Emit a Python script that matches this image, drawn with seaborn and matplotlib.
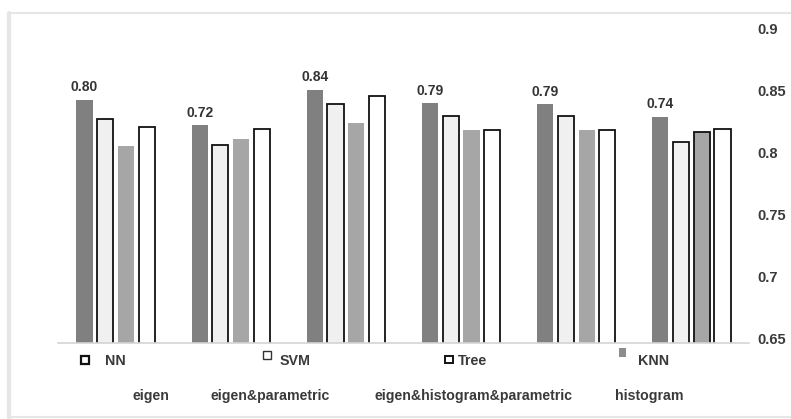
import matplotlib
matplotlib.use("Agg")
import matplotlib.pyplot as plt
import matplotlib.transforms as mtransforms
from matplotlib.patches import Rectangle
from matplotlib.lines import Line2D
import pandas as pd
import seaborn as sns

# Data
GROUPS = ["1", "2", "3", "4", "5", "6"]
MODELS = ["NN", "SVM", "Tree", "KNN"]
NN = [0.847, 0.826, 0.855, 0.844, 0.843, 0.833]
SVM = [0.831, 0.810, 0.843, 0.834, 0.834, 0.813]
TREE = [0.809, 0.815, 0.828, 0.822, 0.822, 0.821]
KNN = [0.8245, 0.823, 0.850, 0.822, 0.822, 0.823]
TOP_LABELS = ["0.80", "0.72", "0.84", "0.79", "0.79", "0.74"]
CATEGORY_LABELS = ["eigen", "eigen&parametric", "eigen&histogram&parametric", "histogram"]
Y_TICKS = [0.65, 0.7, 0.75, 0.8, 0.85, 0.9]
Y_TICK_LABELS = ["0.65", "0.7", "0.75", "0.8", "0.85", "0.9"]

COLORS = {"NN": "#808080", "SVM": "#f0f0f0", "Tree": "#a6a6a6", "KNN": "#ffffff"}
TEXT = "#3a3a3a"
W, H = 791, 419


def px(x, y):
    # pixel (from top-left) -> figure fraction
    return x / W, 1 - y / H


def build_frame():
    rows = []
    for model, vals in zip(MODELS, [NN, SVM, TREE, KNN]):
        for g, v in zip(GROUPS, vals):
            rows.append({"group": g, "model": model, "score": v})
    return pd.DataFrame(rows)


sns.set_style("white")
plt.rcParams["font.family"] = ["Liberation Sans", "DejaVu Sans"]

df = build_frame()
fig = plt.figure(figsize=(W / 100, H / 100), dpi=100)
ax = fig.add_axes([58 / W, 76 / H, (749 - 58) / W, 309 / H])

sns.barplot(data=df, x="group", y="score", hue="model", hue_order=MODELS,
            palette=COLORS, width=0.72, gap=0.22, saturation=1,
            legend=False, ax=ax)

# edges like the original
for i, cont in enumerate(ax.containers):
    for j, bar in enumerate(cont):
        bar.set_linewidth(0)
        if MODELS[i] in ("SVM", "KNN") or (MODELS[i] == "Tree" and j == 5):
            bar.set_edgecolor("#111111")
            bar.set_linewidth(1.3)

ax.bar_label(ax.containers[0], labels=TOP_LABELS, padding=4,
             fontsize=10, fontweight="bold", color="#333333")

ax.set_ylim(0.65, 0.9)
ax.yaxis.tick_right()
ax.set_yticks(Y_TICKS)
ax.set_yticklabels(Y_TICK_LABELS)
ax.tick_params(axis="y", length=0, pad=6, labelsize=10.5, labelcolor=TEXT)
for lab in ax.get_yticklabels():
    lab.set_fontweight("bold")
    lab.set_transform(lab.get_transform() + mtransforms.ScaledTranslation(0, 5 / 100, fig.dpi_scale_trans))
ax.set_xticks([])
ax.set_xlabel("")
ax.set_ylabel("")
for side in ("top", "left", "right"):
    ax.spines[side].set_visible(False)
ax.spines["bottom"].set_color("#d4d4d4")
ax.spines["bottom"].set_linewidth(1.2)

# outer frame
fig.add_artist(Line2D(*zip(px(9, 13), px(791, 13)), transform=fig.transFigure, color="#e6e6e6", lw=1.5))
fig.add_artist(Line2D(*zip(px(9, 13), px(9, 419)), transform=fig.transFigure, color="#e6e6e6", lw=3))
fig.add_artist(Line2D(*zip(px(9, 417), px(791, 417)), transform=fig.transFigure, color="#e6e6e6", lw=1.5))

# legend, laid out by hand like the source
legend_items = [
    ("NN", (81, 356, 8, 8), "white", "#111111", 1.6, (105, 361)),
    ("SVM", (263, 351, 8, 8), "white", "#333333", 1.0, (280, 361)),
    ("Tree", (445, 356, 8, 7), "white", "#111111", 1.4, (458, 361)),
    ("KNN", (619, 348, 7, 9), "#8c8c8c", "none", 0, (638, 361)),
]
for name, (x, y, w, h), fc, ec, lw, (tx, ty) in legend_items:
    x0, y0 = px(x, y + h)
    fig.add_artist(Rectangle((x0, y0), w / W, h / H, transform=fig.transFigure,
                             facecolor=fc, edgecolor=ec, linewidth=lw))
    fig.text(*px(tx, ty), name, ha="left", va="center", fontsize=10.3,
             fontweight="bold", color=TEXT)

# category labels
for label, cx in zip(CATEGORY_LABELS, [151, 270, 474, 649]):
    fig.text(*px(cx, 396), label, ha="center", va="center", fontsize=10.2,
             fontweight="bold", color=TEXT)

fig.savefig("out.png", dpi=100)
